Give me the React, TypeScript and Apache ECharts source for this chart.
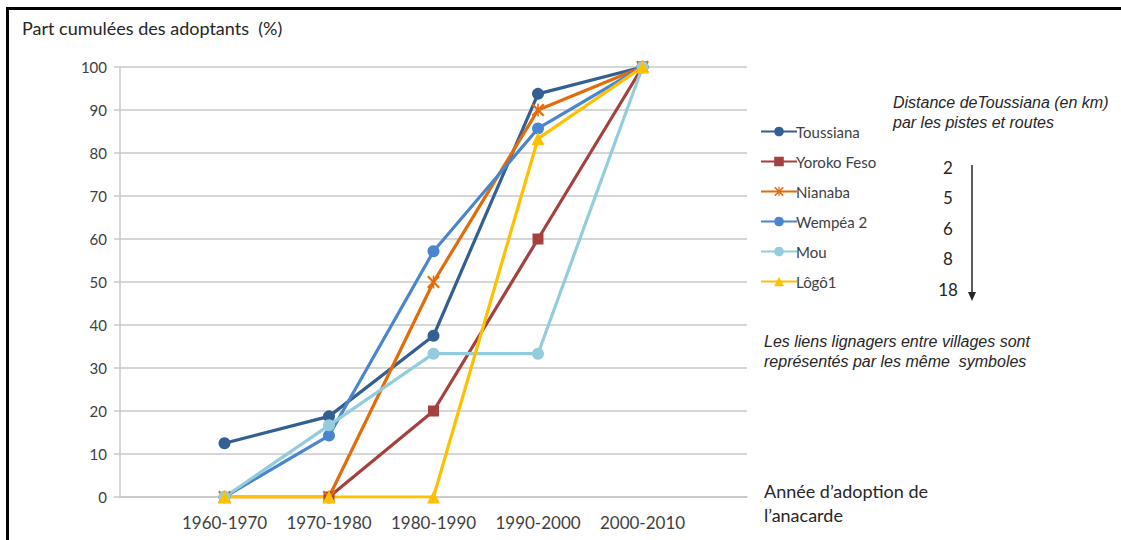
import React, { useEffect, useRef } from "react";
import * as echarts from "echarts";

const categories = ["1960-1970", "1970-1980", "1980-1990", "1990-2000", "2000-2010"];
const toussiana = [12.5, 18.75, 37.5, 93.75, 100];
const yorokoFeso = [null, 0, 20, 60, 100];
const nianaba = [0, 0, 50, 90, 100];
const wempea2 = [0, 14.29, 57.14, 85.71, 100];
const mou = [0, 16.67, 33.33, 33.33, 100];
const logo1 = [0, 0, 0, 83.33, 100];
const distances = ["2", "5", "6", "8", "18"];

const STAR = "path://M0,1.2 L1.2,0 L10,8.8 L8.8,10 Z M8.8,0 L10,1.2 L1.2,10 L0,8.8 Z M4.4,0 L5.6,0 L5.6,10 L4.4,10 Z";

const pad = (a: (number | null)[]) => [null, ...a, null];

export default function App() {
  const ref = useRef<HTMLDivElement>(null);
  useEffect(() => {
    const chart = echarts.init(ref.current!, null, { renderer: "svg" });
    const font = "Lato";
    const ital = "Liberation Sans";
    const mk = (name: string, data: (number | null)[], color: string, symbol: string, size: number) => ({
      name,
      type: "line",
      data: pad(data),
      symbol,
      symbolSize: size,
      showSymbol: true,
      connectNulls: false,
      lineStyle: { color, width: 3.2 },
      itemStyle: { color },
    });
    chart.setOption({
      animation: false,
      backgroundColor: "#ffffff",
      grid: { left: 120, right: 374, top: 67, bottom: 43 },
      legend: {
        orient: "vertical",
        left: 755,
        top: 119,
        itemWidth: 36,
        itemHeight: 12,
        itemGap: 15,
        textStyle: { fontFamily: font, fontSize: 15, color: "#404040", padding: [0, 0, 0, -6] },
        data: ["Toussiana", "Yoroko Feso", "Nianaba", "Wempéa 2", "Mou", "Lôgô1"],
      },
      xAxis: {
        type: "category",
        data: ["", ...categories, ""],
        boundaryGap: false,
        axisLine: { lineStyle: { color: "#C8C8C8", width: 1.5 } },
        axisTick: { show: false },
        axisLabel: { fontFamily: font, fontSize: 17, color: "#404040", margin: 17, interval: 0 },
        splitLine: { show: false },
      },
      yAxis: {
        type: "value",
        min: 0,
        max: 100,
        interval: 10,
        axisLine: { show: true, lineStyle: { color: "#C8C8C8", width: 1.5 } },
        axisTick: { show: true, length: 6, lineStyle: { color: "#C8C8C8", width: 1.5 } },
        axisLabel: { fontFamily: font, fontSize: 15, color: "#404040", margin: 13 },
        splitLine: { lineStyle: { color: "#C8C8C8", width: 1.5 } },
      },
      series: [
        mk("Toussiana", toussiana, "#335F92", "circle", 12),
        mk("Yoroko Feso", yorokoFeso, "#A5403E", "rect", 11),
        mk("Nianaba", nianaba, "#E36C0A", STAR, 13),
        mk("Wempéa 2", wempea2, "#4A86D0", "circle", 12),
        mk("Mou", mou, "#93CDDD", "circle", 12),
        mk("Lôgô1", logo1, "#FFC000", "triangle", 13),
      ],
      graphic: [
        { type: "rect", shape: { x: 6, y: 7, width: 1121, height: 3 }, style: { fill: "#000" } },
        { type: "rect", shape: { x: 6, y: 7, width: 3, height: 540 }, style: { fill: "#000" } },
        { type: "text", x: 22, y: 28, style: { text: "Part cumulées des adoptants  (%)", fontFamily: font, fontSize: 18, fill: "#262626", verticalAlign: "middle" } },
        { type: "text", x: 893, y: 102, style: { text: "Distance deToussiana (en km)", fontFamily: ital, fontStyle: "italic", fontSize: 16, fill: "#262626", verticalAlign: "middle" } },
        { type: "text", x: 893, y: 122, style: { text: "par les pistes et routes", fontFamily: ital, fontStyle: "italic", fontSize: 16, fill: "#262626", verticalAlign: "middle" } },
        ...distances.map((d, i) => ({
          type: "text", x: 948, y: 167 + i * 30.5,
          style: { text: d, fontFamily: font, fontSize: 17, fill: "#262626", align: "center", verticalAlign: "middle" },
        })),
        { type: "line", shape: { x1: 972, y1: 165, x2: 972, y2: 293 }, style: { stroke: "#262626", lineWidth: 1.5 } },
        { type: "polygon", shape: { points: [[968, 292], [976, 292], [972, 301]] }, style: { fill: "#262626" } },
        { type: "text", x: 764, y: 341, style: { text: "Les liens lignagers entre villages sont", fontFamily: ital, fontStyle: "italic", fontSize: 16, fill: "#262626", verticalAlign: "middle" } },
        { type: "text", x: 764, y: 361, style: { text: "représentés par les même  symboles", fontFamily: ital, fontStyle: "italic", fontSize: 16, fill: "#262626", verticalAlign: "middle" } },
        { type: "text", x: 764, y: 491, style: { text: "Année d’adoption de", fontFamily: font, fontSize: 18, fill: "#262626", verticalAlign: "middle" } },
        { type: "text", x: 764, y: 515, style: { text: "l’anacarde", fontFamily: font, fontSize: 18, fill: "#262626", verticalAlign: "middle" } },
      ],
    });
    return () => chart.dispose();
  }, []);
  return <div ref={ref} style={{ position: "fixed", left: 0, top: 0, width: 1121, height: 540 }} />;
}
